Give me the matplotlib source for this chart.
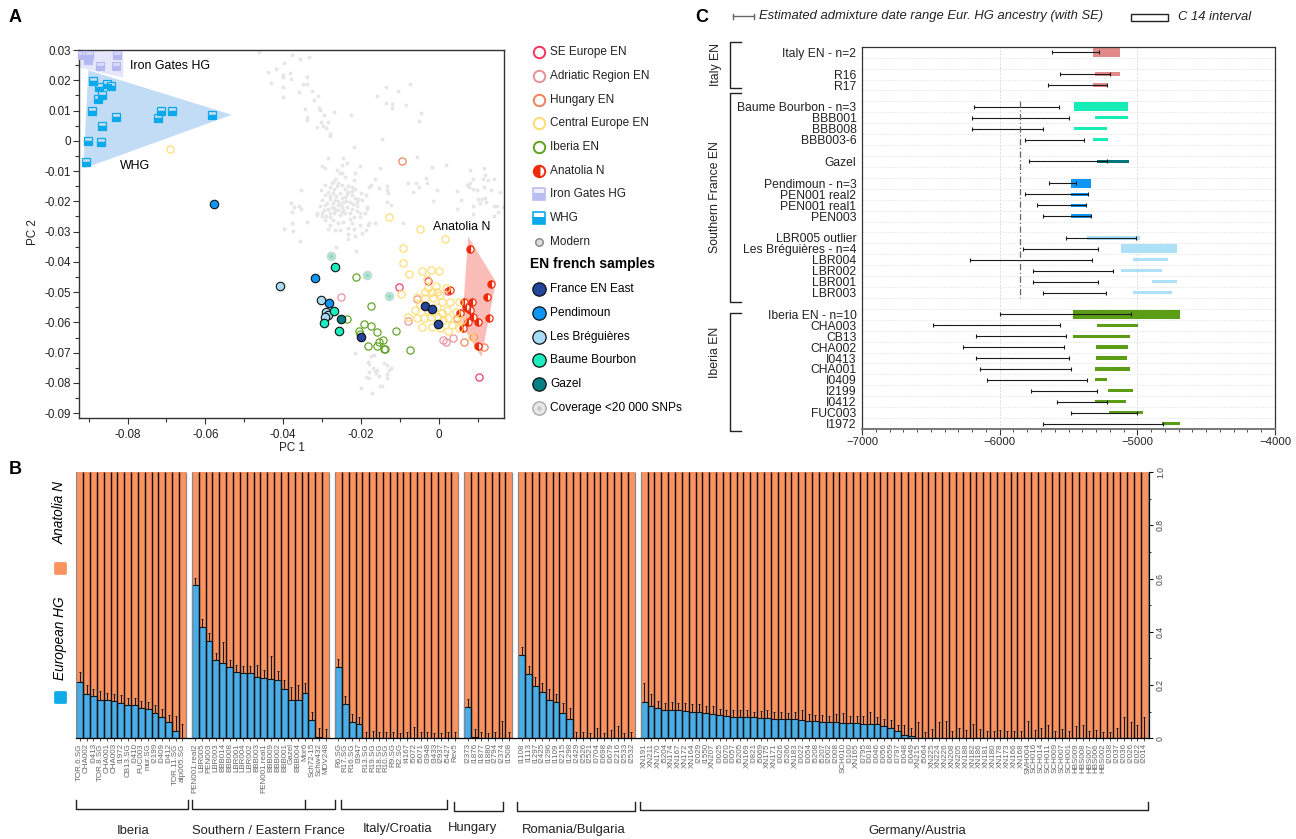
import numpy as np
import matplotlib
matplotlib.use("Agg")
import matplotlib.pyplot as plt
from matplotlib.markers import MarkerStyle
from matplotlib.patches import Polygon, Rectangle

plt.rcParams['font.family'] = ['Liberation Sans', 'DejaVu Sans']

W, H = 1296, 839

# ----- Panel A: PCA -----
whg_x = [-.0907, -.0902, -.0868, -.0866, -.0891, -.0830, -.0723, -.0713, -.0687, -.0583, -.0876, -.0865, -.0890, -.0873, -.0852, -.0842]
whg_y = [-.0070, 0, -.0004, .0050, .0098, .0080, .0075, .0097, .0100, .0086, .0138, .0152, .0196, .0179, .0187, .0182]
iron_x = [-.0918, -.0907, -.0898, -.0902, -.0870, -.0831, -.0826]
iron_y = [.0282, .0285, .0285, .0268, .0248, .0248, .0285]
whg_hull = [(-.0901, .0233), (-.0532, .0086), (-.0914, -.0092)]
iron_hull = [(-.0925, .0299), (-.0811, .0293), (-.0811, .0209), (-.0925, .0242)]
anatolia_hull = [(.0076, -.0317), (.0147, -.0466), (.0110, -.0714), (.0060, -.0609)]

central_x = [-.0690, -.0129, .0015, -.0049, -.0092, -.0092, -.0077, -.0042, -.0021, 0, -.0029, -.0008, .0019, -.0036, -.0018, .0003, -.0097, -.0057, -.0035, -.0015, .0008, .0029, .0051, -.0048, -.0005, .0021, .0045, -.0080, -.0057, -.0039, -.0021, -.0001, .0025, .0046, .0059, -.0042, -.0018, .0003, .0025, .0051, -.0014, -.0031, .0008, .0033, .0012, -.0061, .0085, -.0027, -.0005]
central_y = [-.0028, -.0252, -.0323, -.0290, -.0354, -.0405, -.0440, -.0431, -.0427, -.0429, -.0457, -.0481, -.0486, -.0499, -.0499, -.0511, -.0505, -.0516, -.0521, -.0518, -.0532, -.0532, -.0532, -.0543, -.0549, -.0559, -.0565, -.0581, -.0587, -.0587, -.0581, -.0581, -.0587, -.0593, -.0593, -.0614, -.0614, -.0620, -.0628, -.0620, -.0565, -.0559, -.0570, -.0609, -.0593, -.0559, -.0648, -.0488, -.0499]
iberia_x = [-.0212, -.0175, -.0237, -.0205, -.0191, -.0175, -.0159, -.0144, -.0181, -.0158, -.0154, -.0141, -.0138, -.0109, -.0075, -.0202]
iberia_y = [-.0449, -.0546, -.0590, -.0628, -.0606, -.0611, -.0633, -.0659, -.0677, -.0678, -.0665, -.0689, -.0687, -.0629, -.0690, -.0640]
se_x = [-.0103, -.0028, .0104, .0025]
se_y = [-.0483, -.0464, -.0782, -.0495]
adriatic_x = [-.0251, -.0055, -.0078, .0010, .0019, .0038]
adriatic_y = [-.0517, -.0523, -.0594, -.0659, -.0665, -.0651]
hungary_x = [-.0095, .0065, .0117, .0089, .0046]
hungary_y = [-.0067, -.0665, -.0682, -.0648, -.0587]
anatolia_x = [.0081, .0135, .0125, .0129, .0101, .0085, .0066, .0072, .0055, .0089, .0076, .0062, .0101, .0029, .0069, .0081]
anatolia_y = [-.0357, -.0474, -.0517, -.0586, -.0598, -.0534, -.0534, -.0554, -.0570, -.0581, -.0600, -.0620, -.0678, -.0492, -.0548, -.0559]

france_x = [-.0200, -.0034, -.0018, -.0003]
france_y = [-.0647, -.0546, -.0555, -.0607]
pendimoun_x = [-.0577, -.0319, -.0281]
pendimoun_y = [-.0208, -.0454, -.0536]
breguieres_x = [-.0409, -.0303, -.0290, -.0284, -.0292]
breguieres_y = [-.0480, -.0526, -.0565, -.0576, -.0581]
baume_x = [-.0266, -.0294, -.0268, -.0256]
baume_y = [-.0417, -.0603, -.0562, -.0630]
gazel_x = [-.0250]
gazel_y = [-.0590]
lowcov_x = [-.0278, -.0185, -.0127]
lowcov_y = [-.0380, -.0444, -.0512]

# grey modern samples, upper arm, main cloud, its dense core, right cloud, lower cloud
modern_upper = [(-.0461, .0295), (-.0378, .0285), (-.0356, .0271), (-.0333, .0277), (-.0397, .0258), (-.0440, .0227), (-.0419, .0236), (-.0401, .0219), (-.0383, .0225), (-.0381, .0205), (-.0400, .0211), (-.0431, .0192), (-.0401, .0177), (-.0401, .0146), (-.0359, .0160), (-.0349, .0188), (-.0339, .0210), (-.0339, .0189), (-.0326, .0166), (-.0311, .0147), (-.0320, .0136), (-.0344, .0104), (-.0309, .0109), (-.0305, .0101), (-.0268, .0096), (-.0295, .0084), (-.0338, .0079), (-.0338, .0068), (-.0314, .0046), (-.0302, .0062), (-.0298, .0048), (-.0284, .0062), (-.0290, .0042), (-.0279, .0024), (-.0225, .0086), (-.0147, .0006), (-.0135, .0177), (-.0104, .0163), (-.0073, .0189), (-.0159, .0147), (-.0136, .0125), (-.0119, .0122), (-.0119, .0108), (-.0084, .0118), (-.0045, .0092), (-.0050, .0067)]
modern_main = [(-.0279, .0016), (-.0217, -.0019), (-.0285, -.0057), (-.0245, -.0056), (-.0237, -.0073), (-.0301, -.0083), (-.0292, -.0089), (-.0248, -.0081), (-.0202, -.0082), (-.0151, -.0091), (-.0215, -.0105), (-.0262, -.0097), (-.0254, -.0105), (-.0249, -.0108), (-.0266, -.0125), (-.0271, -.0136), (-.0240, -.0119), (-.0219, -.0130), (-.0165, -.0125), (-.0175, -.0145), (-.0178, -.0152), (-.0154, -.0156), (-.0134, -.0149), (-.0132, -.0163), (-.0131, -.0171), (-.0355, -.0163), (-.0303, -.0163), (-.0292, -.0147), (-.0275, -.0141), (-.0258, -.0141), (-.0249, -.0147), (-.0224, -.0152), (-.0215, -.0158), (-.0232, -.0169), (-.0284, -.0169), (-.0271, -.0174), (-.0254, -.0174), (-.0241, -.0185), (-.0224, -.0180), (-.0201, -.0171), (-.0188, -.0180), (-.0207, -.0191), (-.0198, -.0196), (-.0211, -.0202), (-.0279, -.0191), (-.0301, -.0196), (-.0266, -.0196), (-.0245, -.0202), (-.0228, -.0202), (-.0292, -.0213), (-.0305, -.0216), (-.0275, -.0218), (-.0258, -.0213), (-.0249, -.0218), (-.0380, -.0207), (-.0371, -.0218), (-.0358, -.0215), (-.0354, -.0226), (-.0377, -.0235), (-.0314, -.0238), (-.0301, -.0240), (-.0279, -.0237), (-.0266, -.0229), (-.0245, -.0229), (-.0211, -.0233), (-.0185, -.0218), (-.0185, -.0224), (-.0202, -.0237), (-.0134, -.0203), (-.0123, -.0213), (-.0314, -.0246), (-.0301, -.0248), (-.0279, -.0251), (-.0254, -.0246), (-.0219, -.0251), (-.0202, -.0251), (-.0189, -.0240), (-.0339, -.0268), (-.0378, -.0272), (-.0279, -.0277), (-.0258, -.0270), (-.0245, -.0268), (-.0224, -.0273), (-.0202, -.0279), (-.0183, -.0277), (-.0178, -.0270), (-.0165, -.0270), (-.0292, -.0262), (-.0271, -.0262), (-.0228, -.0257), (-.0398, -.0291), (-.0375, -.0299), (-.0285, -.0290), (-.0266, -.0295), (-.0254, -.0295), (-.0232, -.0288), (-.0219, -.0290), (-.0187, -.0295), (-.0198, -.0304), (-.0232, -.0307), (-.0215, -.0314), (-.0232, -.0323), (-.0357, -.0332), (-.0264, -.0350), (-.0212, -.0364), (-.0093, -.0273)]
modern_core = [(-.0280, -.0152), (-.0268, -.0160), (-.0262, -.0150), (-.0240, -.0160), (-.0232, -.0150), (-.0222, -.0166), (-.0292, -.0178), (-.0280, -.0182), (-.0264, -.0182), (-.0248, -.0190), (-.0236, -.0176), (-.0214, -.0188), (-.0288, -.0204), (-.0272, -.0206), (-.0260, -.0200), (-.0252, -.0208), (-.0238, -.0198), (-.0220, -.0210), (-.0284, -.0224), (-.0270, -.0222), (-.0258, -.0228), (-.0248, -.0234), (-.0236, -.0220), (-.0222, -.0226), (-.0210, -.0216), (-.0296, -.0230), (-.0268, -.0240), (-.0242, -.0240), (-.0228, -.0240), (-.0290, -.0250)]
modern_right = [(-.0055, -.0053), (-.0018, -.0087), (.0019, -.0080), (-.0033, -.0122), (-.0030, -.0138), (-.0078, -.0141), (-.0058, -.0138), (-.0051, -.0153), (-.0065, -.0170), (-.0004, -.0161), (-.0015, -.0200), (.0046, -.0166), (.0058, -.0196), (.0046, -.0224), (.0081, -.0095), (.0117, -.0090), (.0120, -.0112), (.0089, -.0125), (.0115, -.0125), (.0127, -.0130), (.0141, -.0127), (.0072, -.0147), (.0081, -.0141), (.0079, -.0152), (.0087, -.0160), (.0099, -.0163), (.0117, -.0152), (.0135, -.0164), (.0158, -.0169), (.0102, -.0191), (.0111, -.0191), (.0119, -.0189), (.0105, -.0207), (.0122, -.0202), (.0087, -.0216), (.0141, -.0215), (.0149, -.0215), (.0165, -.0218), (.0153, -.0235), (.0141, -.0249), (.0089, -.0243)]
modern_lower = [(-.0215, -.0700), (-.0174, -.0711), (-.0167, -.0707), (-.0183, -.0732), (-.0178, -.0739), (-.0141, -.0733), (-.0132, -.0741), (-.0123, -.0750), (-.0127, -.0757), (-.0170, -.0752), (-.0165, -.0760), (-.0159, -.0757), (-.0162, -.0768), (-.0180, -.0764), (-.0133, -.0769), (-.0154, -.0777), (-.0133, -.0785), (-.0188, -.0782), (-.0179, -.0783), (-.0199, -.0816), (-.0151, -.0811), (-.0145, -.0810), (-.0172, -.0835)]

# ----- Panel B: ancestry bars, one list per region -----
iberia_names = ["TOR.6.SG", "CHA002", "I0413", "TOR.8.SG", "CHA001", "CHA003", "I1972", "CB13.SG", "I0410", "FUC003", "mur.SG", "I2199", "I0409", "I0412", "TOR.11.SG", "atp005.SG"]
iberia_hg = [.213, .165, .158, .143, .142, .139, .132, .125, .124, .113, .109, .096, .080, .063, .026, 0]
iberia_top = [.248, .199, .184, .179, .169, .165, .162, .152, .150, .140, .135, .124, .109, .088, .085, .054]
south_names = ["PEN001.real2", "LBR005", "PEN003", "LBR003", "BBB014", "BBB008", "LBR001", "LBR004", "LBR002", "BBB003", "PEN001.real1", "BBB009", "BBB002", "BBB001", "Gazel", "BBB004", "Mor6", "Sch72-15", "Schw432", "MDV248"]
south_hg = [.574, .417, .365, .293, .282, .266, .248, .244, .244, .231, .228, .221, .219, .187, .143, .143, .169, .068, .004, 0]
south_top = [.601, .447, .395, .320, .362, .293, .276, .273, .272, .276, .257, .310, .253, .218, .192, .200, .207, .098, .038, .034]
italy_names = ["R6.SG", "R17.SG", "R16.SG", "I3947", "R13.SG", "R19.SG", "R18.SG", "R10.SG", "R9.SG", "R2.SG", "I4167", "I5072", "I5071", "I3948", "I3433", "I2937", "I5427", "Rev5"]
italy_hg = [.266, .127, .061, .054, .003, 0, 0, 0, 0, 0, 0, 0, 0, 0, 0, 0, 0, 0]
italy_top = [.296, .157, .093, .080, .025, .028, .025, .024, .024, .021, .025, .044, .024, .025, .021, .021, .023, .025]
hungary_names = ["I2373", "I1876", "I1877", "I1880", "I2794", "I2374", "I1508"]
hungary_hg = [.118, .005, .003, 0, 0, 0, 0]
hungary_top = [.148, .034, .023, .021, .023, .066, .023]
romania_names = ["I1108", "I1113", "I1297", "I2425", "I1296", "I1109", "I2215", "I1298", "I2429", "I2526", "I2521", "I0704", "I0698", "I0679", "I2216", "I2533", "I2532"]
romania_hg = [.312, .242, .195, .173, .142, .137, .096, .073, 0, 0, 0, 0, 0, 0, 0, 0, 0]
romania_top = [.343, .272, .231, .208, .185, .167, .134, .114, .025, .025, .021, .040, .021, .031, .046, .021, .023]
germany_names = ["XN191", "XN211", "XN170", "I5204", "XN174", "XN167", "XN172", "XN164", "I2029", "I1550", "XN207", "I0025", "I0070", "I0057", "I5205", "XN169", "I0821", "I5069", "XN175", "XN171", "I0026", "I5266", "XN183", "I0022", "I0054", "I5208", "I5207", "I2002", "I2008", "SCH010", "I0100", "XN165", "I0795", "I0018", "I0046", "I0056", "I0659", "I0797", "I0048", "I0049", "XN215",
                 "I5064", "XN225", "XN224", "XN226", "XN208", "XN205", "XN188", "XN182", "XN186", "XN181", "XN180", "XN178", "XN173", "XN166", "XN168", "SMH004", "SCH016", "SCH014", "SCH011", "SCH009", "SCH007", "SCH001", "HBS009", "HBS008", "HBS007", "HBS006", "HBS002", "I2038", "I2037", "I2036", "I2026", "I2022", "I2014"]
germany_hg = [.138, .123, .113, .108, .108, .105, .104, .099, .098, .096, .091, .088, .084, .081, .081, .079, .079, .078, .075, .074, .074, .073, .071, .070, .064, .064, .063, .060, .060, .058, .058, .056, .055, .055, .053, .048, .040, .026, .013, .010, .003] + [0] * 33
germany_top = [.209, .165, .139, .132, .138, .132, .132, .128, .128, .123, .120, .110, .107, .107, .105, .107, .099, .102, .105, .100, .099, .096, .098, .107, .093, .088, .086, .084, .090, .096, .082, .084, .084, .098, .079, .074, .068, .051, .051, .038, .060,
               .024, .034, .060, .064, .029, .038, .030, .054, .034, .029, .028, .030, .029, .028, .026, .064, .030, .038, .050, .029, .034, .029, .046, .049, .028, .033, .024, .025, .038, .079, .060, .049, .079]

# ----- Panel C: admixture dates and C14 intervals, "" is a blank row -----
c_labels = ["Italy EN - n=2", "", "R16", "R17", "", "Baume Bourbon - n=3", "BBB001", "BBB008", "BBB003-6", "", "Gazel", "", "Pendimoun - n=3", "PEN001 real2", "PEN001 real1", "PEN003", "",
            "LBR005 outlier", "Les Bréguières - n=4", "LBR004", "LBR002", "LBR001", "LBR003", "", "Iberia EN - n=10", "CHA003", "CB13", "CHA002", "I0413", "CHA001", "I0409", "I2199", "I0412", "FUC003", "I1972"]
nan = float('nan')
adm_lo = [-5618, nan, -5565, -5652, nan, -6188, -6199, -6199, -5814, nan, -5786, nan, -5644, -5814, -5727, -5683, nan, -5518, -5833, -6216, -5761, -5755, -5685, nan, -6000, -6481, -6174, -6269, -6174, -6140, -6090, -5772, -5582, -5484, -5685]
adm_hi = [-5281, nan, -5200, -5217, nan, -5568, -5493, -5683, -5384, nan, -5217, nan, -5448, -5359, -5370, -5337, nan, -5013, -5286, -5328, -5178, -5286, -5228, nan, -5044, -5560, -5521, -5532, -5493, -5479, -5365, -5295, -5217, -5004, -4812]
c14_lo = [-5323, nan, -5309, -5323, nan, -5462, -5309, -5462, -5323, nan, -5295, nan, -5479, -5479, -5479, -5479, nan, -5367, -5119, -5032, -5119, -4893, -5032, nan, -5468, -5295, -5468, -5298, -5300, -5309, -5309, -5214, -5309, -5205, -4823]
c14_hi = [-5125, nan, -5125, -5217, nan, -5071, -5071, -5217, -5214, nan, -5060, nan, -5337, -5359, -5370, -5337, nan, -4979, -4714, -4778, -4820, -4714, -4747, nan, -4692, -4996, -5055, -5071, -5074, -5055, -5217, -5032, -5080, -4960, -4692]
c_colors = ["#e28a8a"] * 5 + ["#14edb5"] * 5 + ["#00767c"] * 2 + ["#0d96f5"] * 5 + ["#aee0f7"] * 7 + ["#5b9e16"] * 11
mean_date = -5850

fig = plt.figure(figsize=(W / 100, H / 100), dpi=100)


def px_axes(left, top, right, bottom):
    return fig.add_axes([left / W, 1 - bottom / H, (right - left) / W, (bottom - top) / H])


# ----- Panel A -----
ax = px_axes(79, 50, 504, 418)
ax.set_xlim(-.0925, .0168)
ax.set_ylim(-.0916, .0300)
ax.add_patch(Polygon(whg_hull, fc="#c3dcf6", ec="none", zorder=1))
ax.add_patch(Polygon(iron_hull, fc="#e6e6fa", ec="none", zorder=1))
ax.add_patch(Polygon(anatolia_hull, fc="#fbbdb8", ec="none", zorder=1))
for pts in (modern_upper, modern_main, modern_core, modern_right, modern_lower):
    arr = np.array(pts)
    ax.plot(arr[:, 0], arr[:, 1], 'o', ms=2.8, mfc="#e6e6e6", mec="none", zorder=2)


def rings(x, y, color, z=3):
    ax.plot(x, y, 'o', ms=5.2, mfc="none", mec=color, mew=.85, zorder=z)


rings(se_x, se_y, "#f0365c")
rings(adriatic_x, adriatic_y, "#e8909a")
rings(hungary_x, hungary_y, "#f08058")
rings(iberia_x, iberia_y, "#5fa01e")
ax.plot(anatolia_x, anatolia_y, 'o', ms=5.2, fillstyle='left', mfc="#ee2a0a", markerfacecoloralt="white", mec="#ee2a0a", mew=.85, zorder=4)
rings(central_x, central_y, "#ffdc70", z=5)
ax.plot(iron_x, iron_y, 's', ms=6, fillstyle='top', mfc="#d8d8f6", markerfacecoloralt="#b4b8f0", mec="#b4b8f0", mew=.8, zorder=3, clip_on=False)
ax.plot(whg_x, whg_y, 's', ms=6, fillstyle='top', mfc="#c8dcf0", markerfacecoloralt="#0aa9ec", mec="#0aa9ec", mew=.9, zorder=3)
for x, y, color in ((breguieres_x, breguieres_y, "#a8dcf5"), (pendimoun_x, pendimoun_y, "#0d96f5"), (baume_x, baume_y, "#1cecbe"), (gazel_x, gazel_y, "#007f85"), (france_x, france_y, "#24459c")):
    ax.plot(x, y, 'o', ms=6.1, mfc=color, mec="#111111", mew=.8, zorder=6)
ax.plot(lowcov_x, lowcov_y, 'o', ms=6.1, mfc="#aee5d3", mec="#c4ddd4", mew=.8, zorder=6)
ax.plot(lowcov_x, lowcov_y, 'o', ms=2.2, mfc="#8fd0bd", mec="none", zorder=7)
ax.text(-.0794, .0246, "Iron Gates HG", fontsize=8.9, va='center')
ax.text(-.0821, -.0083, "WHG", fontsize=8.9, va='center')
ax.text(-.0015, -.0286, "Anatolia N", fontsize=8.9, va='center', zorder=8)
ax.set_xticks([-.08, -.06, -.04, -.02, 0])
ax.set_xticklabels(["-0.08", "-0.06", "-0.04", "-0.02", "0"])
ax.set_xticks(np.arange(-.09, .011, .01), minor=True)
ax.set_yticks(np.arange(-.09, .031, .01))
ax.set_yticklabels(["-0.09", "-0.08", "-0.07", "-0.06", "-0.05", "-0.04", "-0.03", "-0.02", "-0.01", "0", "0.01", "0.02", "0.03"])
ax.set_yticks(np.arange(-.09, .031, .005), minor=True)
ax.tick_params(which='major', length=4, width=.8, color="#333333", labelsize=8.4, pad=2, labelcolor="#222222")
ax.tick_params(axis='x', which='major', pad=4)
ax.tick_params(which='minor', length=3, width=.8, color="#333333")
ax.set_xlabel("PC 1", fontsize=8.4, color="#222222")
ax.set_ylabel("PC 2", fontsize=8.4, color="#222222")
ax.xaxis.set_label_coords(.5, -.066)
ax.yaxis.set_label_coords(-.094, .505)
for s in ax.spines.values():
    s.set_linewidth(1)
    s.set_color("#333333")

# ----- Panel B -----
groups = [(iberia_names, iberia_hg, iberia_top), (south_names, south_hg, south_top), (italy_names, italy_hg, italy_top),
          (hungary_names, hungary_hg, hungary_top), (romania_names, romania_hg, romania_top), (germany_names, germany_hg, germany_top)]
bx = px_axes(76.3, 472, 1149, 738.3)
start = 0.0
all_pos, all_names = [], []
for names, hg, top in groups:
    pos = start + np.arange(len(names))
    hg = np.array(hg)
    bx.bar(pos, 1 - hg, bottom=hg, width=1, align='edge', color="#fb9361", linewidth=0)
    bx.bar(pos, hg, width=1, align='edge', color="#49aee8", edgecolor="#111111", linewidth=.8)
    bx.vlines(pos[1:], 0, 1, color="#111111", lw=1.05)
    bx.vlines([pos[0], pos[-1] + 1], 0, 1, color="#888888", lw=.9)
    bx.errorbar(pos + .5, hg, yerr=[np.zeros(len(hg)), np.array(top) - hg], fmt='none', ecolor="#1a1a1a", elinewidth=.8, capsize=.6, capthick=.7)
    all_pos.extend(pos + .5)
    all_names.extend(names)
    start = pos[-1] + 1 + .88
bx.set_xlim(0, start - .88 + .2)
bx.set_ylim(0, 1)
bx.set_xticks(all_pos)
bx.set_xticklabels(all_names, rotation=90, fontsize=5.8, color="#666666")
bx.tick_params(axis='x', length=2.5, width=.6, pad=1, color="#333333")
bx.yaxis.tick_right()
bx.set_yticks([0, .2, .4, .6, .8, 1])
bx.set_yticklabels(["0", "0.2", "0.4", "0.6", "0.8", "1.0"], rotation=90, va='center', fontsize=6.2, color="#444444")
bx.set_yticks(np.arange(.1, 1, .2), minor=True)
bx.tick_params(axis='y', which='major', length=3, width=.7, pad=2)
bx.tick_params(axis='y', which='minor', length=1.5, width=.6)
for side in ('top', 'left'):
    bx.spines[side].set_visible(False)
bx.spines['bottom'].set_linewidth(.9)
bx.spines['right'].set_linewidth(.9)

# ----- Panel C -----
cx = px_axes(862, 46.8, 1275, 429)
rows = np.arange(len(c_labels))
cx.set_xlim(-7000, -4000)
cx.set_ylim(len(c_labels) - .5, -.5)
adm_lo, adm_hi, c14_lo, c14_hi = map(np.array, (adm_lo, adm_hi, c14_lo, c14_hi))
heights = [.82 if " - n=" in lab else .3 for lab in c_labels]
cx.barh(rows, c14_hi - c14_lo, left=c14_lo, height=heights, color=c_colors, zorder=2)
mid = (adm_lo + adm_hi) / 2
cx.errorbar(mid, rows, xerr=(adm_hi - adm_lo) / 2, fmt='none', ecolor="#1a1a1a", elinewidth=.8, capsize=1.6, capthick=.8, zorder=3)
cx.vlines(mean_date, 4.5, 22.5, color="#666666", lw=.9, linestyles=(0, (5, 2, 1, 2)), zorder=3)
cx.set_yticks(rows[[i for i, lab in enumerate(c_labels) if lab]])
cx.set_yticklabels([lab for lab in c_labels if lab], fontsize=8.7, color="#222222")
cx.set_yticks(rows[:-1] + .5, minor=True)
cx.set_xticks([-7000, -6000, -5000, -4000])
cx.set_xticklabels(["−7000", "−6000", "−5000", "−4000"], fontsize=8.2, color="#222222")
cx.set_xticks(np.arange(-7000, -3999, 100), minor=True)
cx.grid(which='minor', axis='y', color="#e4e4e4", lw=.6, ls=(0, (2, 1.5)), zorder=0)
cx.grid(which='major', axis='x', color="#dcdcdc", lw=.7, ls=(0, (2, 1.5)), zorder=0)
cx.tick_params(axis='y', which='both', length=0, pad=4)
cx.tick_params(axis='x', which='major', length=4, width=.8, pad=2, color="#333333")
cx.tick_params(axis='x', which='minor', length=2, width=.6, color="#333333")
for s in cx.spines.values():
    s.set_linewidth(.9)
    s.set_color("#333333")
cx.spines['bottom'].set_linewidth(1.4)
cx.spines['bottom'].set_color("#777777")
cx.set_axisbelow(True)

# ----- overlay in figure pixels: legends, brackets, panel letters -----
ov = fig.add_axes([0, 0, 1, 1], zorder=10)
ov.set_xlim(0, W)
ov.set_ylim(H, 0)
ov.axis('off')
ov.patch.set_alpha(0)

ov.text(9, 18, "A", fontsize=13, fontweight='bold', va='center')
ov.text(9, 470, "B", fontsize=13, fontweight='bold', va='center')
ov.text(695, 17, "C", fontsize=13, fontweight='bold', va='center')

legend_open = [("SE Europe EN", 52, "#f0365c"), ("Adriatic Region EN", 76, "#e8909a"), ("Hungary EN", 100, "#f08058"),
               ("Central Europe EN", 123, "#ffdc70"), ("Iberia EN", 147, "#5fa01e")]
for lab, y, col in legend_open:
    ov.plot(539, y, 'o', ms=8.2, mfc="none", mec=col, mew=1.4)
    ov.text(550, y, lab, fontsize=8.5, va='center', color="#222222")
ov.plot(539, 171, 'o', ms=8.2, fillstyle='left', mfc="#ee2a0a", markerfacecoloralt="white", mec="#ee2a0a", mew=1.4)
ov.text(550, 171, "Anatolia N", fontsize=8.5, va='center', color="#222222")
ov.plot(539, 194, 's', ms=9, fillstyle='top', mfc="#f0f0fc", markerfacecoloralt="#b9bdf0", mec="#b9bdf0", mew=1.2)
ov.text(550, 194, "Iron Gates HG", fontsize=8.5, va='center', color="#222222")
ov.plot(539, 218, 's', ms=9, fillstyle='top', mfc="white", markerfacecoloralt="#0aa9ec", mec="#0aa9ec", mew=1.2)
ov.text(550, 218, "WHG", fontsize=8.5, va='center', color="#222222")
ov.plot(539, 242, 'o', ms=5.4, mfc="#dddddd", mec="#8a8a8a", mew=1.1)
ov.text(550, 242, "Modern", fontsize=8.5, va='center', color="#222222")
ov.text(530, 264, "EN french samples", fontsize=10, fontweight='bold', va='center')
legend_fr = [("France EN East", 289, "#24459c"), ("Pendimoun", 313, "#0d96f5"), ("Les Bréguières", 337, "#a8dcf5"),
             ("Baume Bourbon", 360, "#1cecbe"), ("Gazel", 384, "#007f85")]
for lab, y, col in legend_fr:
    ov.plot(539, y, 'o', ms=9.6, mfc=col, mec="#111111", mew=.9)
    ov.text(550, y, lab, fontsize=8.6, va='center', color="black")
ov.plot(539, 408, 'o', ms=9.6, mfc="#e8e8e8", mec="#aaaaaa", mew=1)
ov.plot(539, 408, 'o', ms=3.5, mfc="#c8c8c8", mec="none")
ov.text(550, 408, "Coverage <20 000 SNPs", fontsize=8.6, va='center', color="black")

# panel C header
ov.plot([733, 754], [16, 16], color="#666666", lw=1)
ov.plot([733, 733], [13.5, 18.5], color="#666666", lw=1)
ov.plot([754, 754], [13.5, 18.5], color="#666666", lw=1)
ov.text(759, 16, "Estimated admixture date range Eur. HG ancestry (with SE)", fontsize=9.4, style='italic', va='center', color="#222222")
ov.add_patch(Rectangle((1131, 13.7), 37, 7.6, fc="none", ec="#222222", lw=1))
ov.text(1178, 17, "C 14 interval", fontsize=9.4, style='italic', va='center', color="#222222")

# panel C brackets
for top, bot, lab, ymid in ((42, 88, "Italy EN", 65), (93, 302, "Southern France EN", 197), (312.7, 430.7, "Iberia EN", 352)):
    ov.plot([741, 730.4, 730.4, 741], [top, top, bot, bot], color="#222222", lw=1)
    ov.text(715.5, ymid, lab, rotation=90, ha='center', va='center', fontsize=8.8, color="#222222")

# panel B legend on the left
square = MarkerStyle('s', joinstyle='round')
ov.plot(60, 568, marker=square, ms=7.5, mew=2, color="#fb9361")
ov.plot(60, 697, marker=square, ms=7.5, mew=2, color="#10ace8")
ov.text(60, 513, "Anatolia N", rotation=90, style='italic', fontsize=9.8, ha='center', va='center')
ov.text(60, 638, "European HG", rotation=90, style='italic', fontsize=9.8, ha='center', va='center')

# panel B brackets and region names
for left, right, mid_tick, top, bot in ((76.3, 188, None, 800, 809), (192.3, 335, 305.3, 800, 809), (341, 447.3, None, 800, 809),
                                        (454, 503, None, 801.7, 810.7), (517, 634.7, None, 801.7, 810.7), (640, 1147.7, None, 801.7, 810)):
    ov.plot([left, left, right, right], [top, bot, bot, top], color="#222222", lw=1)
    if mid_tick:
        ov.plot([mid_tick, mid_tick], [top, bot], color="#222222", lw=1)
for lab, x, y in (("Iberia", 132.7, 830.7), ("Southern / Eastern France", 268, 830.7), ("Italy/Croatia", 398, 829),
                  ("Hungary", 472.7, 828), ("Romania/Bulgaria", 574, 830), ("Germany/Austria", 917, 830.7)):
    ov.text(x, y, lab, ha='center', va='center', fontsize=9.4, color="#222222")

fig.savefig("out.png", dpi=100)
